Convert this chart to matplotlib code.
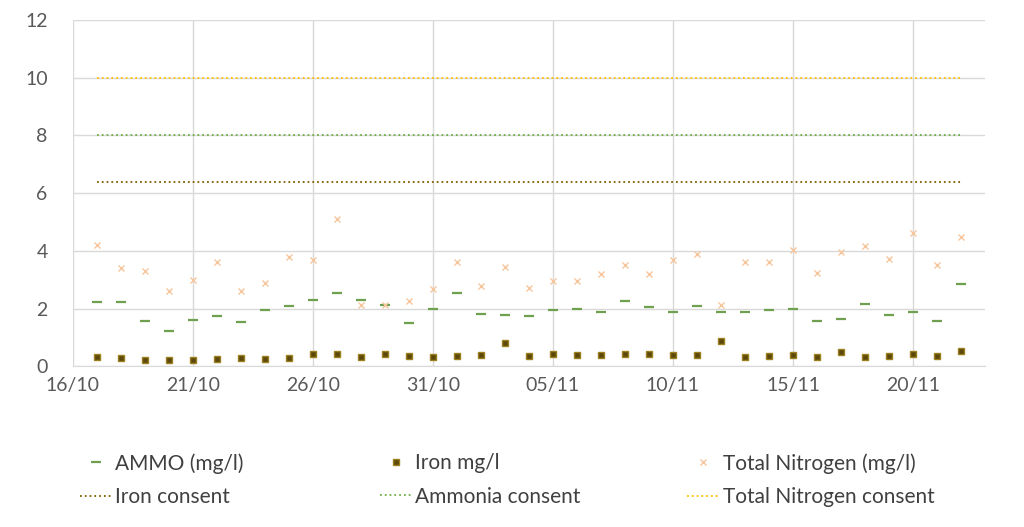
import matplotlib.pyplot as plt
import matplotlib.dates as mdates
import datetime as dt

plt.rcParams['font.family'] = ['Lato', 'DejaVu Sans']

# dates: one reading per day from 17/10 to 22/11
dias = [dt.date(2019, 10, 17) + dt.timedelta(days=i) for i in range(37)]

ammo = [2.21, 2.21, 1.58, 1.22, 1.61, 1.75, 1.52, 1.94, 2.10, 2.31, 2.53, 2.28,
        2.13, 1.50, 2.00, 2.53, 1.81, 1.78, 1.74, 1.96, 2.00, 1.87, 2.25, 2.07,
        1.87, 2.09, 1.87, 1.87, 1.94, 2.00, 1.56, 1.65, 2.15, 1.78, 1.87, 1.58, 2.85]
ferro = [0.31, 0.28, 0.23, 0.22, 0.20, 0.26, 0.28, 0.24, 0.28, 0.42, 0.42, 0.31,
         0.42, 0.35, 0.31, 0.35, 0.39, 0.79, 0.35, 0.42, 0.38, 0.38, 0.44, 0.42,
         0.38, 0.38, 0.86, 0.33, 0.35, 0.38, 0.33, 0.51, 0.33, 0.35, 0.42, 0.35, 0.53]
nitro = [4.19, 3.39, 3.29, 2.61, 3.00, 3.60, 2.61, 2.88, 3.77, 3.70, 5.10, 2.13,
         2.13, 2.25, 2.69, 3.60, 2.79, 3.45, 2.71, 2.97, 2.97, 3.19, 3.50, 3.19,
         3.70, 3.88, 2.11, 3.61, 3.62, 4.04, 3.22, 3.95, 4.16, 3.72, 4.61, 3.51, 4.49]

iron_consent = 6.4
ammonia_consent = 8
tn_consent = 10

verde = '#70AD47'
marrom = '#7F6000'
amarelo = '#FFC000'

fig = plt.figure(figsize=(10.24, 5.27), dpi=100)
ax = fig.add_axes([0.071, 0.305, 0.891, 0.657])

l1, = ax.plot(dias, ammo, linestyle='none', marker='_', ms=7, mew=1.6, color='#6FA050', label='AMMO (mg/l)')
l2, = ax.plot(dias, ferro, linestyle='none', marker='s', ms=5, mfc='#5C4A0A', mec='#9C8020', label='Iron mg/l')
l3, = ax.plot(dias, nitro, linestyle='none', marker='x', ms=5, mew=1, color='#F6C69C', label='Total Nitrogen (mg/l)')

l4, = ax.plot(dias, [iron_consent] * len(dias), ':', color=marrom, lw=1.3, label='Iron consent')
l5, = ax.plot(dias, [ammonia_consent] * len(dias), ':', color=verde, lw=1.3, label='Ammonia consent')
l6, = ax.plot(dias, [tn_consent] * len(dias), ':', color=amarelo, lw=1.3, label='Total Nitrogen consent')

ax.set_ylim(0, 12)
ax.set_yticks(range(0, 13, 2))
ax.set_xlim(dt.date(2019, 10, 16), dt.date(2019, 11, 23))
ax.set_xticks([dt.date(2019, 10, 16) + dt.timedelta(days=5 * i) for i in range(8)])
ax.xaxis.set_major_formatter(mdates.DateFormatter('%d/%m'))

ax.grid(True, color='#D9D9D9', lw=1)
ax.set_axisbelow(True)
for s in ['top', 'right', 'left']:
    ax.spines[s].set_visible(False)
ax.spines['bottom'].set_color('#D9D9D9')
ax.tick_params(length=0, labelsize=14, colors='#595959')
ax.tick_params(axis='y', pad=18)
ax.tick_params(axis='x', pad=8)

# legend in three columns, placed one by one
colunas = [([l1, l4], 0.070), ([l2, l5], 0.363), ([l3, l6], 0.663)]
for handles, x0 in colunas:
    fig.legend(handles=handles, loc='upper left', bbox_to_anchor=(x0, 0.156), frameon=False,
               fontsize=15, handlelength=1.5, handletextpad=0.2, labelspacing=0.65,
               labelcolor='#404040', borderaxespad=0)

plt.savefig('out.png')
